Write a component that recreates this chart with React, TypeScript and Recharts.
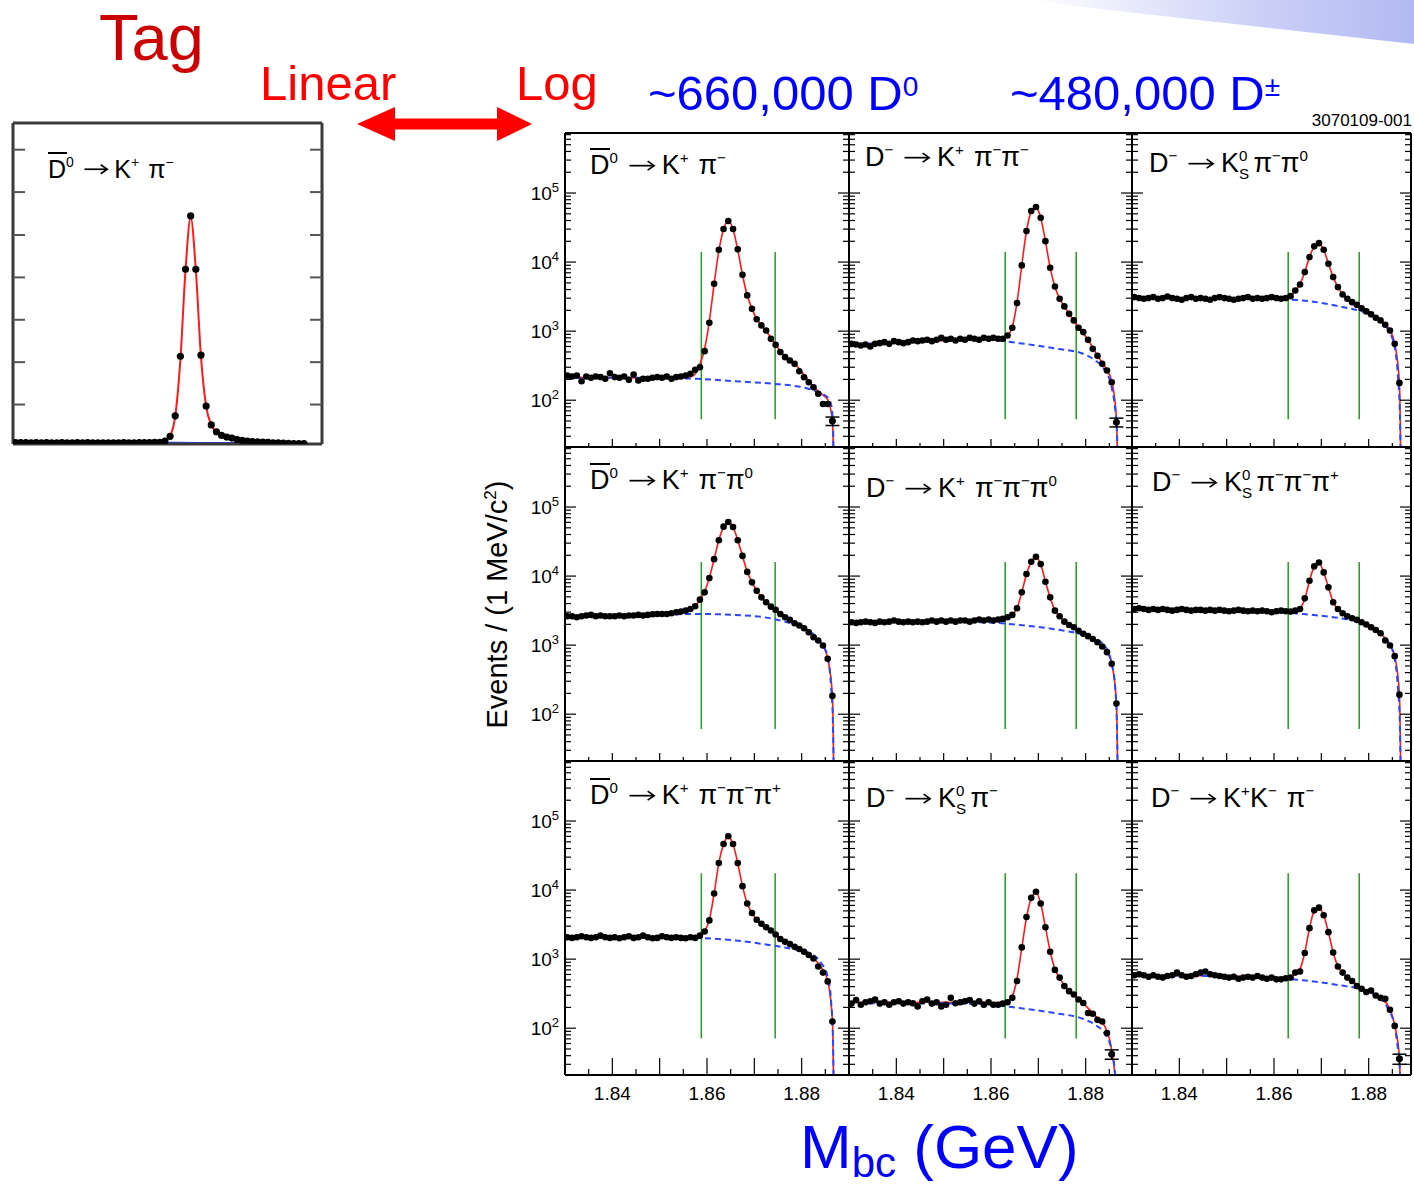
import React from 'react';
import { ComposedChart, XAxis, YAxis, Line, Scatter, ReferenceLine, ErrorBar } from 'recharts';

const FONT = '"Liberation Sans", Arial, Helvetica, sans-serif';

// 1 MeV bin centres (GeV)
const BIN_X = [
  1.8305, 1.8315, 1.8325, 1.8335, 1.8345, 1.8355, 1.8365, 1.8375, 1.8385, 1.8395,
  1.8405, 1.8415, 1.8425, 1.8435, 1.8445, 1.8455, 1.8465, 1.8475, 1.8485, 1.8495,
  1.8505, 1.8515, 1.8525, 1.8535, 1.8545, 1.8555, 1.8565, 1.8575, 1.8585, 1.8595,
  1.8605, 1.8615, 1.8625, 1.8635, 1.8645, 1.8655, 1.8665, 1.8675, 1.8685, 1.8695,
  1.8705, 1.8715, 1.8725, 1.8735, 1.8745, 1.8755, 1.8765, 1.8775, 1.8785, 1.8795,
  1.8805, 1.8815, 1.8825, 1.8835, 1.8845, 1.8855, 1.8865,
];
// x positions where the fit curve and the background curve were read
const FIT_X = [
  1.83, 1.838, 1.846, 1.852, 1.8555, 1.8565, 1.8575, 1.8585, 1.8595, 1.8605, 1.8615,
  1.8625, 1.8635, 1.8645, 1.8655, 1.8665, 1.8675, 1.8685, 1.8695, 1.8705, 1.8715,
  1.8725, 1.8735, 1.8745, 1.8755, 1.8765, 1.8785, 1.8805, 1.8825, 1.8845, 1.8855,
  1.8865, 1.8869,
];
const BG_X = [1.83, 1.845, 1.858, 1.866, 1.874, 1.879, 1.882, 1.884, 1.8855, 1.8862, 1.8866, 1.8869];

// D0bar -> K+ pi-
const P1_DATA = [
  228, 220, 228, 188, 220, 211, 220, 216, 204, 246, 216, 211, 220, 197, 236, 193, 204, 204, 211, 216,
  211, 220, 204, 216, 220, 228, 241, 275, 300, 513, 1320, 4850, 15100, 30100, 39300, 30100, 15300,
  6550, 3290, 2110, 1490, 1210, 1020, 774, 634, 497, 420, 376, 336, 263, 215, 182, 154, 124, 88, 88, 50,
];
const P1_FIT = [
  215, 212, 210, 210, 212, 218, 240, 330, 560, 1400, 4800, 14500, 30000, 39000, 30000, 15000, 6500,
  3300, 2100, 1500, 1200, 1000, 800, 640, 510, 430, 340, 235, 158, 118, 102, 50, 2,
];
const P1_BG = [211, 211, 204, 188, 173, 159, 143, 126, 110, 88, 46, 2];

// D- -> K+ pi- pi-
const P2_DATA = [
  655, 641, 620, 641, 600, 655, 670, 693, 655, 716, 693, 670, 693, 733, 716, 733, 749, 716, 749, 800,
  749, 774, 733, 774, 749, 800, 774, 749, 800, 774, 800, 774, 774, 865, 1117, 2546, 8950, 28100,
  54800, 62700, 43900, 20100, 8270, 4440, 2940, 2280, 1780, 1430, 1117, 968, 748, 554, 439, 336, 269,
  182, 48,
];
const P2_FIT = [
  640, 670, 710, 740, 760, 765, 770, 775, 778, 780, 782, 790, 860, 1150, 2600, 9000, 28000, 54000,
  62000, 44000, 20000, 8300, 4400, 2950, 2280, 1800, 1130, 750, 440, 270, 190, 55, 2,
];
const P2_BG = [641, 716, 764, 670, 555, 482, 377, 274, 153, 78, 36, 2];

// D- -> KS pi- pi0
const P3_DATA = [
  3110, 3010, 2940, 3010, 3110, 2940, 3010, 3180, 3010, 2940, 2850, 3010, 3110, 2940, 3010, 2940,
  2850, 3010, 3110, 3010, 2940, 2850, 2940, 3010, 3110, 2940, 3010, 2940, 3010, 3110, 3010, 2940,
  3010, 3210, 3880, 4740, 7160, 11800, 16900, 18800, 15100, 9460, 6060, 4340, 3400, 2940, 2630, 2410,
  2150, 1930, 1750, 1560, 1430, 1240, 1020, 655, 178,
];
const P3_FIT = [
  3010, 3010, 3000, 3000, 3000, 3000, 2990, 2990, 2990, 2990, 3000, 3050, 3250, 3850, 4800, 7200,
  11800, 16800, 18700, 15000, 9500, 6100, 4350, 3420, 2950, 2650, 2170, 1760, 1430, 1030, 660, 180, 2,
];
const P3_BG = [3010, 3010, 2940, 2780, 2270, 1880, 1500, 1080, 586, 215, 63, 2];

// D0bar -> K+ pi- pi0
const P4_DATA = [
  2620, 2620, 2530, 2620, 2680, 2740, 2620, 2680, 2620, 2620, 2620, 2680, 2620, 2680, 2680, 2740,
  2680, 2740, 2800, 2830, 2830, 2830, 2900, 2990, 3060, 3160, 3340, 3650, 4560, 5810, 9350, 17600,
  33000, 52000, 60800, 51500, 33000, 19600, 11500, 8110, 6140, 4920, 4170, 3610, 3240, 2830, 2530,
  2320, 2070, 1920, 1760, 1540, 1300, 1170, 988, 635, 184,
];
const P4_FIT = [
  2620, 2640, 2680, 2780, 3100, 3350, 3700, 4500, 6000, 9500, 17500, 33000, 51000, 60000, 51000, 33000,
  19500, 11600, 8100, 6150, 4950, 4150, 3620, 3230, 2850, 2550, 2080, 1760, 1320, 980, 640, 185, 2,
];
const P4_BG = [2620, 2680, 2830, 2740, 2400, 1930, 1540, 1110, 670, 260, 78, 2];

// D- -> K+ pi- pi- pi0
const P5_DATA = [
  2150, 2100, 2150, 2190, 2150, 2100, 2190, 2150, 2190, 2270, 2190, 2150, 2190, 2150, 2190, 2150,
  2190, 2270, 2190, 2270, 2190, 2270, 2190, 2270, 2270, 2190, 2270, 2350, 2270, 2350, 2270, 2350,
  2400, 2540, 2740, 3420, 5810, 10700, 16100, 19000, 14900, 8280, 4920, 3160, 2620, 2190, 1960, 1820,
  1610, 1460, 1350, 1230, 1100, 957, 792, 538, 143,
];
const P5_FIT = [
  2150, 2170, 2200, 2230, 2250, 2260, 2270, 2280, 2290, 2300, 2320, 2350, 2450, 2750, 3450, 5800,
  10600, 16000, 18800, 14800, 8300, 4900, 3200, 2620, 2220, 1980, 1620, 1350, 1100, 790, 540, 145, 2,
];
const P5_BG = [2150, 2190, 2150, 1960, 1680, 1440, 1230, 988, 537, 263, 70, 2];

// D- -> KS pi- pi- pi+
const P6_DATA = [
  3340, 3420, 3340, 3240, 3340, 3240, 3340, 3240, 3160, 3240, 3340, 3240, 3160, 3240, 3240, 3160,
  3240, 3160, 3240, 3160, 3090, 3160, 3240, 3160, 3090, 3160, 3090, 3160, 3090, 2990, 3090, 3160,
  3090, 3060, 3160, 3340, 4760, 8570, 13800, 15700, 11300, 6870, 4170, 3340, 2900, 2620, 2450, 2320,
  2150, 1990, 1820, 1660, 1490, 1170, 988, 693, 192,
];
const P6_FIT = [
  3300, 3260, 3220, 3200, 3180, 3170, 3160, 3150, 3140, 3130, 3120, 3110, 3100, 3150, 3400, 4700,
  8500, 13800, 15600, 11300, 6900, 4200, 3330, 2900, 2630, 2450, 2150, 1820, 1480, 1000, 690, 195, 2,
];
const P6_BG = [3340, 3240, 3090, 2830, 2450, 2110, 1630, 1170, 635, 234, 70, 2];

// D0bar -> K+ pi- pi- pi+
const P7_DATA = [
  2070, 2030, 2070, 2150, 2070, 2030, 2070, 2190, 2070, 2030, 2070, 2010, 2070, 2150, 2030, 2070,
  2190, 2070, 2010, 2030, 2150, 2070, 2030, 2070, 2030, 2010, 2070, 2030, 2190, 2510, 3640, 8940,
  24600, 46600, 60300, 46600, 24600, 11400, 6380, 4660, 3720, 3250, 2900, 2600, 2270, 1960, 1790,
  1660, 1510, 1400, 1280, 1150, 1020, 781, 638, 476, 125,
];
const P7_FIT = [
  2060, 2060, 2060, 2060, 2060, 2060, 2070, 2150, 2550, 3700, 8900, 24500, 46000, 59500, 46000, 24500,
  11400, 6400, 4650, 3730, 3250, 2900, 2590, 2280, 1980, 1800, 1520, 1290, 1030, 700, 490, 125, 2,
];
const P7_BG = [2070, 2070, 2030, 1860, 1570, 1360, 1190, 900, 560, 250, 76, 2];

// D- -> KS pi-
const P8_DATA = [
  227, 255, 219, 238, 246, 260, 227, 238, 219, 238, 246, 227, 238, 230, 207, 246, 260, 227, 238, 207,
  219, 275, 230, 238, 246, 255, 227, 246, 219, 238, 219, 219, 227, 238, 275, 482, 1480, 4070, 7720,
  9460, 6380, 2900, 1280, 698, 540, 407, 344, 308, 260, 232, 166, 162, 132, 125, 85, 42, 10,
];
const P8_FIT = [
  235, 237, 238, 238, 238, 238, 237, 237, 236, 236, 236, 237, 245, 290, 520, 1450, 4000, 7600, 9300,
  6400, 2900, 1300, 720, 530, 420, 350, 265, 195, 140, 92, 48, 10, 2,
];
const P8_BG = [230, 230, 223, 196, 163, 140, 112, 84, 48, 22, 8, 2];

// D- -> K+ K- pi-
const P9_DATA = [
  583, 603, 583, 557, 583, 557, 540, 570, 583, 638, 583, 557, 570, 603, 638, 661, 603, 583, 570, 557,
  540, 557, 521, 540, 557, 540, 570, 540, 521, 540, 510, 510, 530, 540, 638, 661, 1225, 2810, 5090,
  5570, 4310, 2460, 1250, 781, 638, 540, 482, 407, 372, 333, 351, 297, 275, 266, 185, 108, 36,
];
const P9_FIT = [
  580, 578, 575, 565, 555, 552, 549, 546, 543, 540, 537, 535, 545, 620, 720, 1250, 2800, 5000, 5500,
  4300, 2450, 1250, 790, 630, 545, 480, 380, 330, 275, 190, 110, 38, 2,
];
const P9_BG = [583, 570, 540, 495, 417, 355, 283, 196, 106, 48, 24, 2];

// signal windows (GeV)
const CUT_D0 = [1.8588, 1.8744];
const CUT_DP = [1.863, 1.878];

const X_TICKS = [1.835, 1.84, 1.845, 1.85, 1.855, 1.86, 1.865, 1.87, 1.875, 1.88, 1.885];
const X_LABELS = ['1.84', '1.86', '1.88'];
const DECADES = [10, 100, 1000, 10000, 100000];
const MULTS = [1, 2, 3, 4, 5, 6, 7, 8, 9];
const LOG_DOMAIN: [number, number] = [21, 740000];
const Y_TICKS = DECADES.flatMap((d) => MULTS.map((m) => m * d)).filter(
  (v) => v >= LOG_DOMAIN[0] && v <= LOG_DOMAIN[1],
);
const LIN_TICKS = [6800, 14100, 21400, 28700, 36000, 43400, 50700];
// vertical extent of the green window lines, per row
const GREEN_Y = [
  [53, 14000],
  [61, 16000],
  [71, 17500],
];

// layout
const ROW_TOP = [133, 447, 761];
const PANEL_H = 314;
const COL_LEFT = [565, 849, 1132];
const COL_W = [284, 283, 279];
const X_MIN = 1.83;
const GEV_PER_PX = 0.06 / 284;
const FRAME = { stroke: '#000', strokeWidth: 2 };

function Sup({ c, fs }: { c: string; fs: number }) {
  return <span style={{ fontSize: fs * 0.56, position: 'relative', top: -fs * 0.42 }}>{c}</span>;
}

function DBar({ fs }: { fs: number }) {
  return (
    <span style={{ position: 'relative', display: 'inline-block' }}>
      D
      <span
        style={{
          position: 'absolute',
          left: 0,
          width: fs * 0.74,
          top: fs * 0.13 - 8,
          height: 2,
          background: '#000',
        }}
      />
    </span>
  );
}

function KS({ fs }: { fs: number }) {
  const s = fs * 0.56;
  const h = fs * 0.8;
  return (
    <span style={{ position: 'relative', display: 'inline-block', width: s * 0.75, height: h }}>
      <span style={{ position: 'absolute', left: 0, top: h - fs * 0.42 - 0.8465 * s, fontSize: s, lineHeight: 1 }}>0</span>
      <span style={{ position: 'absolute', left: 0, top: h + fs * 0.26 - 0.8465 * s, fontSize: s, lineHeight: 1 }}>S</span>
    </span>
  );
}

// long thin arrow like the ROOT symbol-font one
function Arrow({ fs }: { fs: number }) {
  const w = fs * 0.95;
  const h = fs * 0.42;
  return (
    <svg
      width={w}
      height={h}
      viewBox={`0 0 ${w} ${h}`}
      style={{ marginLeft: fs * 0.4, marginRight: fs * 0.27, verticalAlign: fs * 0.33 - h / 2, overflow: 'visible' }}
    >
      <line x1={0.5} x2={w - 1} y1={h / 2} y2={h / 2} stroke="#000" strokeWidth={1.7} />
      <path d={`M${w - 7},${h / 2 - 4.5} L${w - 0.5},${h / 2} L${w - 7},${h / 2 + 4.5}`} fill="none" stroke="#000" strokeWidth={1.7} />
    </svg>
  );
}
const Gap = ({ w }: { w: number }) => <span style={{ display: 'inline-block', width: w }} />;

function Txt({
  x,
  base,
  fs,
  color = '#000',
  children,
}: {
  x: number;
  base: number;
  fs: number;
  color?: string;
  children: React.ReactNode;
}) {
  return (
    <div
      style={{
        position: 'absolute',
        left: x,
        top: base - 0.8465 * fs,
        fontSize: fs,
        lineHeight: 1,
        color,
        fontFamily: FONT,
        whiteSpace: 'nowrap',
      }}
    >
      {children}
    </div>
  );
}

const FS = 27;
const PANELS = [
  {
    data: P1_DATA, fit: P1_FIT, bg: P1_BG, cut: CUT_D0, err: { k: 56, e: 7 }, lx: 590, lb: 175,
    label: (<><DBar fs={FS} /><Sup c="0" fs={FS} /><Arrow fs={FS} />K<Sup c="+" fs={FS} /><Gap w={10} />π<Sup c="−" fs={FS} /></>),
  },
  {
    data: P2_DATA, fit: P2_FIT, bg: P2_BG, cut: CUT_DP, err: { k: 56, e: 7 }, lx: 865, lb: 167,
    label: (<>D<Sup c="−" fs={FS} /><Arrow fs={FS} />K<Sup c="+" fs={FS} /><Gap w={10} />π<Sup c="−" fs={FS} />π<Sup c="−" fs={FS} /></>),
  },
  {
    data: P3_DATA, fit: P3_FIT, bg: P3_BG, cut: CUT_DP, lx: 1149, lb: 173,
    label: (<>D<Sup c="−" fs={FS} /><Arrow fs={FS} />K<KS fs={FS} /><Gap w={3} />π<Sup c="−" fs={FS} />π<Sup c="0" fs={FS} /></>),
  },
  {
    data: P4_DATA, fit: P4_FIT, bg: P4_BG, cut: CUT_D0, lx: 590, lb: 490,
    label: (<><DBar fs={FS} /><Sup c="0" fs={FS} /><Arrow fs={FS} />K<Sup c="+" fs={FS} /><Gap w={10} />π<Sup c="−" fs={FS} />π<Sup c="0" fs={FS} /></>),
  },
  {
    data: P5_DATA, fit: P5_FIT, bg: P5_BG, cut: CUT_DP, lx: 866, lb: 498,
    label: (<>D<Sup c="−" fs={FS} /><Arrow fs={FS} />K<Sup c="+" fs={FS} /><Gap w={10} />π<Sup c="−" fs={FS} />π<Sup c="−" fs={FS} />π<Sup c="0" fs={FS} /></>),
  },
  {
    data: P6_DATA, fit: P6_FIT, bg: P6_BG, cut: CUT_DP, lx: 1152, lb: 492,
    label: (<>D<Sup c="−" fs={FS} /><Arrow fs={FS} />K<KS fs={FS} /><Gap w={3} />π<Sup c="−" fs={FS} />π<Sup c="−" fs={FS} />π<Sup c="+" fs={FS} /></>),
  },
  {
    data: P7_DATA, fit: P7_FIT, bg: P7_BG, cut: CUT_D0, lx: 590, lb: 805,
    label: (<><DBar fs={FS} /><Sup c="0" fs={FS} /><Arrow fs={FS} />K<Sup c="+" fs={FS} /><Gap w={10} />π<Sup c="−" fs={FS} />π<Sup c="−" fs={FS} />π<Sup c="+" fs={FS} /></>),
  },
  {
    data: P8_DATA, fit: P8_FIT, bg: P8_BG, cut: CUT_DP, err: { k: 55, e: 6.5 }, lx: 866, lb: 808,
    label: (<>D<Sup c="−" fs={FS} /><Arrow fs={FS} />K<KS fs={FS} /><Gap w={3} />π<Sup c="−" fs={FS} /></>),
  },
  {
    data: P9_DATA, fit: P9_FIT, bg: P9_BG, cut: CUT_DP, err: { k: 56, e: 6 }, lx: 1151, lb: 808,
    label: (<>D<Sup c="−" fs={FS} /><Arrow fs={FS} />K<Sup c="+" fs={FS} />K<Sup c="−" fs={FS} /><Gap w={10} />π<Sup c="−" fs={FS} /></>),
  },
];

function XTick(props: any) {
  const { x, y, payload, bottomRow } = props;
  const v: number = payload.value;
  const major = Math.round(v * 1000) % 10 === 0;
  const len = bottomRow ? (major ? 17 : 6) : major ? 8 : 4;
  const txt = v.toFixed(2);
  return (
    <g>
      <line x1={x} x2={x} y1={y} y2={y - len} stroke="#000" strokeWidth={1.2} />
      {bottomRow && major && X_LABELS.includes(txt) && (
        <text x={x} y={y + 25} textAnchor="middle" fontSize={19} fontFamily={FONT} fill="#000">
          {txt}
        </text>
      )}
    </g>
  );
}

function YTick(props: any) {
  const { x, y, payload, side, showLabel } = props;
  const v: number = payload.value;
  const lg = Math.log10(v);
  const exp = Math.round(lg);
  const decade = Math.abs(lg - exp) < 1e-6;
  const len = decade ? 11 : 6;
  const dx = side === 'left' ? len : -len;
  return (
    <g>
      <line x1={x} x2={x + dx} y1={y} y2={y} stroke="#000" strokeWidth={1.2} />
      {showLabel && decade && (
        <text x={x - 6} y={y + 7} textAnchor="end" fontSize={19} fontFamily={FONT} fill="#000">
          10
          <tspan fontSize={13} dy={-8}>
            {exp}
          </tspan>
        </text>
      )}
    </g>
  );
}

function LinTick(props: any) {
  const { x, y, side } = props;
  const dx = side === 'left' ? 12 : -12;
  return <line x1={x} x2={x + dx} y1={y} y2={y} stroke="#555" strokeWidth={2} />;
}

const Dot = (props: any) => <circle cx={props.cx} cy={props.cy} r={3.3} fill="#000" />;
const BigDot = (props: any) => <circle cx={props.cx} cy={props.cy} r={3.6} fill="#000" />;

// axes get a 1px band (an axis of size 0 is not drawn); margins are reduced by the same amount
function LogPanel({ def, row, col }: { def: (typeof PANELS)[number]; row: number; col: number }) {
  const w = COL_W[col];
  const padL = col === 0 ? 64 : 4;
  const padB = row === 2 ? 36 : 4;
  const pad = 4;
  const xDomain: [number, number] = [X_MIN, X_MIN + w * GEV_PER_PX];
  const points = BIN_X.map((x, i) => ({ x, y: def.data[i] })).filter((d) => d.y >= LOG_DOMAIN[0]);
  const fit = FIT_X.map((x, i) => ({ x, y: def.fit[i] }));
  const bg = BG_X.map((x, i) => ({ x, y: def.bg[i] }));
  const errPts = def.err ? [{ x: BIN_X[def.err.k], y: def.data[def.err.k], e: def.err.e }] : [];
  const [gLo, gHi] = GREEN_Y[row];
  return (
    <div style={{ position: 'absolute', left: COL_LEFT[col] - padL, top: ROW_TOP[row] - pad }}>
      <ComposedChart
        width={w + padL + pad}
        height={PANEL_H + pad + padB}
        margin={{ top: pad - 1, right: pad - 1, bottom: padB - 1, left: padL - 1 }}
      >
        <XAxis
          xAxisId="b"
          dataKey="x"
          type="number"
          domain={xDomain}
          allowDataOverflow
          ticks={X_TICKS}
          interval={0}
          height={1}
          tickSize={0}
          tickMargin={0}
          tickLine={false}
          axisLine={FRAME}
          tick={(t: any) => <XTick {...t} bottomRow={row === 2} />}
        />
        <XAxis xAxisId="t" orientation="top" type="number" domain={xDomain} allowDataOverflow height={1} tick={false} tickLine={false} axisLine={FRAME} />
        <YAxis
          yAxisId="l"
          dataKey="y"
          type="number"
          scale="log"
          domain={LOG_DOMAIN}
          allowDataOverflow
          ticks={Y_TICKS}
          interval={0}
          width={1}
          tickSize={0}
          tickMargin={0}
          tickLine={false}
          axisLine={FRAME}
          tick={(t: any) => <YTick {...t} side="left" showLabel={col === 0} />}
        />
        <YAxis
          yAxisId="r"
          orientation="right"
          type="number"
          scale="log"
          domain={LOG_DOMAIN}
          allowDataOverflow
          ticks={Y_TICKS}
          interval={0}
          width={1}
          tickSize={0}
          tickMargin={0}
          tickLine={false}
          axisLine={FRAME}
          tick={(t: any) => <YTick {...t} side="right" showLabel={false} />}
        />
        <ReferenceLine xAxisId="b" yAxisId="l" segment={[{ x: def.cut[0], y: gLo }, { x: def.cut[0], y: gHi }]} stroke="#1f9e1f" strokeWidth={1.5} />
        <ReferenceLine xAxisId="b" yAxisId="l" segment={[{ x: def.cut[1], y: gLo }, { x: def.cut[1], y: gHi }]} stroke="#1f9e1f" strokeWidth={1.5} />
        <Line xAxisId="b" yAxisId="l" data={fit} dataKey="y" type="monotone" stroke="#ff1a1a" strokeWidth={1.6} dot={false} isAnimationActive={false} />
        <Line xAxisId="b" yAxisId="l" data={bg} dataKey="y" type="monotone" stroke="#2a46ff" strokeWidth={2} strokeDasharray="6 4" dot={false} isAnimationActive={false} />
        <Scatter xAxisId="b" yAxisId="l" data={points} dataKey="y" shape={Dot} isAnimationActive={false} />
        {errPts.length > 0 && (
          <Scatter xAxisId="b" yAxisId="l" data={errPts} dataKey="y" shape={Dot} isAnimationActive={false}>
            <ErrorBar dataKey="e" direction="y" width={7} stroke="#000" strokeWidth={1.5} />
          </Scatter>
        )}
      </ComposedChart>
    </div>
  );
}

const LIN_FRAME = { stroke: '#3a3a3a', strokeWidth: 3 };

function LinearPanel() {
  const pad = 4;
  const w = 309;
  const h = 321;
  const points = BIN_X.map((x, i) => ({ x, y: P1_DATA[i] }));
  const fit = FIT_X.map((x, i) => ({ x, y: P1_FIT[i] }));
  const bg = BG_X.map((x, i) => ({ x, y: P1_BG[i] }));
  return (
    <div style={{ position: 'absolute', left: 13 - pad, top: 123 - pad }}>
      <ComposedChart width={w + 2 * pad} height={h + 2 * pad} margin={{ top: pad - 1, right: pad - 1, bottom: pad - 1, left: pad - 1 }}>
        <XAxis xAxisId="b" dataKey="x" type="number" domain={[1.83, 1.89]} allowDataOverflow height={1} tick={false} tickLine={false} axisLine={LIN_FRAME} />
        <XAxis xAxisId="t" orientation="top" type="number" domain={[1.83, 1.89]} allowDataOverflow height={1} tick={false} tickLine={false} axisLine={LIN_FRAME} />
        <YAxis
          yAxisId="l"
          dataKey="y"
          type="number"
          domain={[0, 55300]}
          allowDataOverflow
          ticks={LIN_TICKS}
          interval={0}
          width={1}
          tickSize={0}
          tickMargin={0}
          tickLine={false}
          axisLine={LIN_FRAME}
          tick={(t: any) => <LinTick {...t} side="left" />}
        />
        <YAxis
          yAxisId="r"
          orientation="right"
          type="number"
          domain={[0, 55300]}
          allowDataOverflow
          ticks={LIN_TICKS}
          interval={0}
          width={1}
          tickSize={0}
          tickMargin={0}
          tickLine={false}
          axisLine={LIN_FRAME}
          tick={(t: any) => <LinTick {...t} side="right" />}
        />
        <Line xAxisId="b" yAxisId="l" data={bg} dataKey="y" type="monotone" stroke="#2a46ff" strokeWidth={2} dot={false} isAnimationActive={false} />
        <Line xAxisId="b" yAxisId="l" data={fit} dataKey="y" type="monotone" stroke="#ff1a1a" strokeWidth={2} dot={false} isAnimationActive={false} />
        <Scatter xAxisId="b" yAxisId="l" data={points} dataKey="y" shape={BigDot} isAnimationActive={false} />
      </ComposedChart>
    </div>
  );
}

export default function App() {
  const FL = 25;
  return (
    <div
      style={{
        position: 'absolute',
        left: 0,
        top: 0,
        width: 1414,
        height: 1190,
        background: '#fff',
        overflow: 'hidden',
        fontFamily: FONT,
      }}
    >
      {/* slide decoration, top right */}
      <div
        style={{
          position: 'absolute',
          left: 1030,
          top: 0,
          width: 384,
          height: 44,
          background: 'linear-gradient(to right, rgba(200,204,246,0) 0%, rgba(190,196,245,0.8) 60%, #b3baf2 100%)',
          clipPath: 'polygon(0 0, 100% 0, 100% 100%, 20% 22%)',
        }}
      />

      <Txt x={99} base={60} fs={65} color="#cc0000">Tag</Txt>
      <Txt x={260} base={100} fs={49} color="#ff0000">Linear</Txt>
      <Txt x={516} base={100} fs={49} color="#ff0000">Log</Txt>
      <svg style={{ position: 'absolute', left: 350, top: 100 }} width={190} height={50}>
        <polygon
          points="7,24 45,7 45,18.5 147,18.5 147,7 182,24 147,41 147,29.5 45,29.5 45,41"
          fill="#ff0000"
        />
      </svg>
      <Txt x={648} base={110} fs={49} color="#0000ff">
        ~660,000 D<span style={{ fontSize: 28, position: 'relative', top: -14 }}>0</span>
      </Txt>
      <Txt x={1010} base={110} fs={49} color="#0000ff">
        ~480,000 D<span style={{ fontSize: 28, position: 'relative', top: -14 }}>±</span>
      </Txt>
      <div
        style={{
          position: 'absolute',
          right: 2,
          top: 126 - 0.8465 * 17,
          fontSize: 17,
          lineHeight: 1,
          fontFamily: FONT,
          color: '#000',
        }}
      >
        3070109-001
      </div>

      <LinearPanel />
      <Txt x={48} base={178} fs={FL}>
        <DBar fs={FL} />
        <Sup c="0" fs={FL} />
        <Arrow fs={FL} />K<Sup c="+" fs={FL} />
        <Gap w={9} />π<Sup c="−" fs={FL} />
      </Txt>

      {PANELS.map((def, i) => (
        <LogPanel key={i} def={def} row={Math.floor(i / 3)} col={i % 3} />
      ))}
      {PANELS.map((def, i) => (
        <Txt key={`l${i}`} x={def.lx} base={def.lb} fs={FS}>
          {def.label}
        </Txt>
      ))}

      <div
        style={{
          position: 'absolute',
          left: 497 - 170,
          top: 604 - 14.5,
          width: 340,
          textAlign: 'center',
          fontSize: 29,
          lineHeight: 1,
          transform: 'rotate(-90deg)',
          transformOrigin: '50% 50%',
          fontFamily: FONT,
          whiteSpace: 'nowrap',
        }}
      >
        Events / (1 MeV/c<span style={{ fontSize: 17, position: 'relative', top: -11 }}>2</span>)
      </div>

      <Txt x={800} base={1168} fs={62} color="#0000ff">
        M<span style={{ fontSize: 42, position: 'relative', top: 9 }}>bc</span> (GeV)
      </Txt>
    </div>
  );
}
